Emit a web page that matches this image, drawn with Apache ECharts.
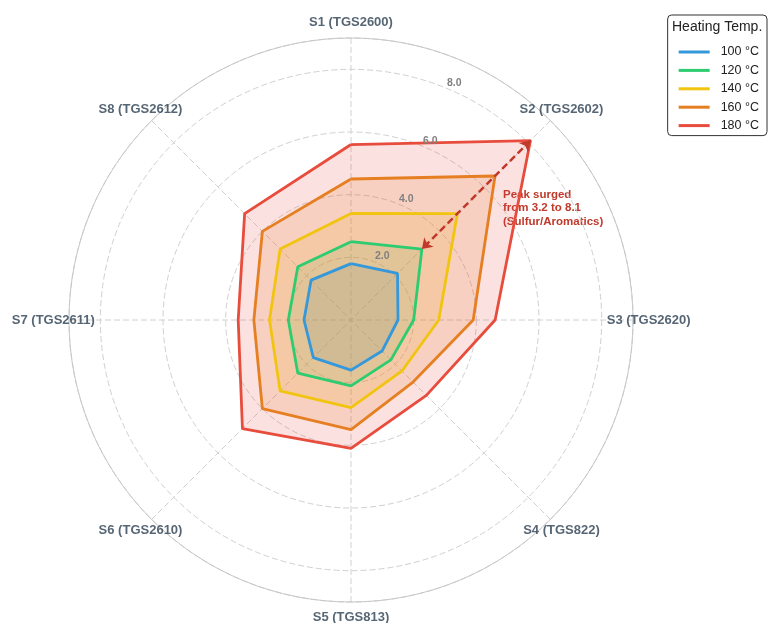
<!DOCTYPE html>
<html>
<head>
<meta charset="utf-8">
<script src="https://cdn.jsdelivr.net/npm/echarts@6/dist/echarts.min.js"></script>
<style>
  html, body { margin: 0; padding: 0; background: #fff; }
  #main { width: 768px; height: 623px; }
</style>
</head>
<body>
<div id="main"></div>
<script>
// sensor axes (clockwise from top)
var sensors = ['S1 (TGS2600)', 'S2 (TGS2602)', 'S3 (TGS2620)', 'S4 (TGS822)',
               'S5 (TGS813)', 'S6 (TGS2610)', 'S7 (TGS2611)', 'S8 (TGS2612)'];
var temps = ['100 °C', '120 °C', '140 °C', '160 °C', '180 °C'];

// response per sensor for each heating temperature
var resp100 = [1.8, 2.1, 1.5, 1.4, 1.6, 1.7, 1.5, 1.8];
var resp120 = [2.5, 3.2, 2.0, 1.8, 2.1, 2.4, 2.0, 2.4];
var resp140 = [3.4, 4.8, 2.8, 2.3, 2.8, 3.2, 2.6, 3.2];
var resp160 = [4.5, 6.5, 3.9, 2.8, 3.5, 4.0, 3.1, 4.0];
var resp180 = [5.6, 8.1, 4.6, 3.4, 4.1, 4.9, 3.6, 4.8];

var colors = ['#3498db', '#2ecc71', '#f1c40f', '#e67e22', '#e74c3c'];
var rMax = 9;
var labelR = 9.5;
var font = 'Liberation Sans';

var chart = echarts.init(document.getElementById('main'), null, { renderer: 'canvas' });

var step = 360 / sensors.length;
function toPolar(vals) {
    var pts = vals.map(function (v, i) { return [v, i * step]; });
    pts.push([vals[0], 360]); // close the polygon
    return pts;
}

var allResp = [resp100, resp120, resp140, resp160, resp180];
var series = [];

// fills first, so every outline sits above all the shading
allResp.forEach(function (vals, k) {
    series.push({
        name: temps[k],
        type: 'line',
        coordinateSystem: 'polar',
        polarIndex: 0,
        data: toPolar(vals),
        symbol: 'none',
        lineStyle: { width: 0, opacity: 0 },
        itemStyle: { color: colors[k] },
        areaStyle: { color: colors[k], opacity: 0.16 },
        silent: true,
        z: 2,
        animation: false
    });
});
allResp.forEach(function (vals, k) {
    series.push({
        name: temps[k],
        type: 'line',
        coordinateSystem: 'polar',
        polarIndex: 0,
        data: toPolar(vals),
        symbol: 'none',
        lineStyle: { width: 2.8, color: colors[k] },
        itemStyle: { color: colors[k] },
        z: 3,
        animation: false
    });
});

// annotation arrow between 120 °C and 180 °C at S2
series[series.length - 1].markLine = {
    silent: true,
    symbol: ['arrow', 'arrow'],
    symbolSize: 10,
    label: { show: false },
    lineStyle: { color: '#c0392b', width: 2.5, type: [7, 4] },
    emphasis: { disabled: true },
    data: [[{ coord: [resp180[1], step] }, { coord: [resp120[1], step] }]],
    animation: false
};

// sensor names
series.push({
    type: 'scatter',
    coordinateSystem: 'polar',
    polarIndex: 0,
    clip: false,
    silent: true,
    symbolSize: 1,
    itemStyle: { color: 'rgba(0,0,0,0)' },
    data: sensors.map(function (n, i) { return [labelR, i * step]; }),
    label: {
        show: true,
        position: 'inside',
        formatter: function (p) { return sensors[p.dataIndex]; },
        color: '#2c3e50',
        fontFamily: font,
        fontWeight: 'bold',
        fontSize: 13
    },
    animation: false
});

var option = {
    backgroundColor: '#fff',
    color: colors,
    title: {
        text: 'Heating Temp.',
        left: 672,
        top: 20,
        padding: 0,
        textStyle: { fontFamily: font, fontSize: 14, fontWeight: 'normal', color: '#222' }
    },
    legend: {
        data: temps,
        orient: 'vertical',
        right: 1,
        top: 15,
        padding: [30, 8, 3, 11],
        itemWidth: 31,
        itemHeight: 3,
        itemGap: 4.4,
        icon: 'rect',
        borderColor: '#333',
        borderWidth: 1,
        borderRadius: 4,
        backgroundColor: '#fff',
        textStyle: { fontFamily: font, fontSize: 12.5, color: '#222', lineHeight: 14, padding: [0, 0, 0, 6] }
    },
    polar: [
        { center: [351, 320], radius: 282 },
        { center: [351, 320], radius: 282 }
    ],
    angleAxis: [
        {
            polarIndex: 0,
            type: 'value',
            min: 0,
            max: 360,
            interval: step,
            startAngle: 90,
            clockwise: true,
            axisLine: { show: true, lineStyle: { color: '#c8c8c8', width: 1 } },
            axisTick: { show: false },
            axisLabel: { show: false },
            splitLine: { show: true, lineStyle: { color: '#d0d0d0', type: [6, 3], width: 1 } }
        },
        {
            polarIndex: 1,
            type: 'value',
            min: 0,
            max: 360,
            startAngle: 67.5,
            show: false
        }
    ],
    radiusAxis: [
        {
            polarIndex: 0,
            type: 'value',
            min: 0,
            max: rMax,
            interval: 2,
            axisLine: { show: false },
            axisTick: { show: false },
            axisLabel: { show: false },
            splitLine: { show: true, lineStyle: { color: '#d0d0d0', type: [6, 3], width: 1 } }
        },
        {
            polarIndex: 1,
            type: 'value',
            min: 0,
            max: rMax,
            interval: 2,
            z: 10,
            axisLine: { show: false },
            axisTick: { show: false },
            splitLine: { show: false },
            axisLabel: {
                show: true,
                margin: 0,
                align: 'left',
                verticalAlign: 'bottom',
                formatter: function (v) { return (v > 0 && v < rMax) ? v.toFixed(1) : ''; },
                color: '#808080',
                fontFamily: font,
                fontWeight: 'bold',
                fontSize: 10.5
            }
        }
    ],
    graphic: [{
        type: 'text',
        left: 503,
        top: 188,
        silent: true,
        style: {
            text: 'Peak surged\nfrom 3.2 to 8.1\n(Sulfur/Aromatics)',
            fill: '#c0392b',
            fontFamily: font,
            fontWeight: 'bold',
            fontSize: 11.5,
            lineHeight: 13.5
        }
    }],
    series: series
};

chart.setOption(option);
</script>
</body>
</html>
